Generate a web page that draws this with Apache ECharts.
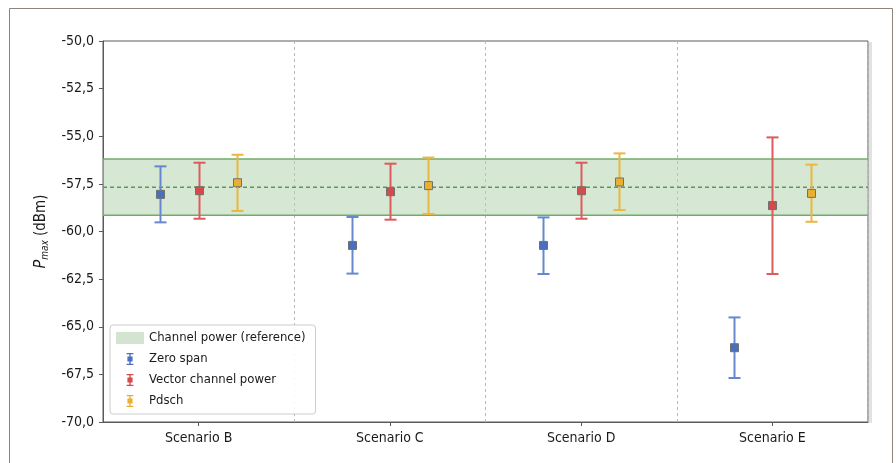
<!DOCTYPE html>
<html>
<head>
<meta charset="utf-8">
<script src="https://cdn.jsdelivr.net/npm/echarts@6/dist/echarts.min.js"></script>
<style>
html,body{margin:0;padding:0;background:#fff;}
#c{width:896px;height:463px;}
</style>
</head>
<body>
<div id="c"></div>
<script>
// ---- data ----
const categories = ['Scenario B', 'Scenario C', 'Scenario D', 'Scenario E'];
const yTicks = [-70, -67.5, -65, -62.5, -60, -57.5, -55, -52.5, -50];

const refCenter = -57.68;
const refLow = -59.15;
const refHigh = -56.19;

const zeroSpanMean = [-58.05, -60.73, -60.73, -66.10];
const zeroSpanLow  = [-59.52, -62.21, -62.23, -67.69];
const zeroSpanHigh = [-56.58, -59.24, -59.26, -64.51];

const vectorMean = [-57.86, -57.91, -57.86, -58.64];
const vectorLow  = [-59.33, -59.38, -59.33, -62.23];
const vectorHigh = [-56.39, -56.44, -56.39, -55.06];

const pdschMean = [-57.44, -57.59, -57.40, -58.00];
const pdschLow  = [-58.92, -59.08, -58.87, -59.49];
const pdschHigh = [-55.97, -56.12, -55.90, -56.49];

const seriesNames = ['Channel power (reference)', 'Zero span', 'Vector channel power', 'Pdsch'];

// ---- styling ----
const FONT = "'Liberation Sans Narrow', 'DejaVu Sans Condensed', 'Roboto Condensed', sans-serif";
const colBlue = '#4a6fbf', colBlueLine = '#6788cf';
const colRed = '#d64a4a', colRedLine = '#dc5b5b';
const colYel = '#e8b030', colYelLine = '#ebb73f';

function mk(mean, low, high) {
  return mean.map((m, i) => [i, m, low[i], high[i]]);
}

function errRender(offFrac, lineColor, fillColor) {
  return function (params, api) {
    const xi = api.value(0);
    const bw = api.size([1, 0])[0];
    const pm = api.coord([xi, api.value(1)]);
    const x = Math.round(pm[0] + offFrac * bw) + 0.5;
    const yl = api.coord([xi, api.value(2)])[1];
    const yh = api.coord([xi, api.value(3)])[1];
    const cap = 6;
    const ls = { stroke: lineColor, lineWidth: 2 };
    return {
      type: 'group',
      children: [
        { type: 'line', shape: { x1: x, y1: yl, x2: x, y2: yh }, style: ls },
        { type: 'line', shape: { x1: x - cap, y1: yl, x2: x + cap, y2: yl }, style: ls },
        { type: 'line', shape: { x1: x - cap, y1: yh, x2: x + cap, y2: yh }, style: ls },
        { type: 'rect', shape: { x: x - 4, y: pm[1] - 4, width: 8, height: 8 },
          style: { fill: fillColor, stroke: '#707070', lineWidth: 1 } }
      ]
    };
  };
}

const errIcon = 'path://M2,0H10V1.6H2Z M2,12.4H10V14H2Z M5.2,0H6.8V14H5.2Z M3,4H9V10H3Z';

const chart = echarts.init(document.getElementById('c'), null, { renderer: 'canvas' });

const option = {
  animation: false,
  backgroundColor: '#ffffff',
  textStyle: { fontFamily: FONT },
  graphic: [
    { type: 'rect', z: 0, silent: true,
      shape: { x: 9.5, y: 8.5, width: 883, height: 480 },
      style: { fill: 'none', stroke: '#8f8478', lineWidth: 1 } },
    { type: 'rect', z: 0, silent: true,
      shape: { x: 869, y: 42, width: 3, height: 381 },
      style: { fill: '#e2e2e2' } }
  ],
  grid: {
    left: 103, right: 28, top: 41, bottom: 41,
    show: true, borderColor: '#5a5a5a', borderWidth: 1, backgroundColor: 'transparent'
  },
  legend: {
    orient: 'vertical',
    left: 110, top: 325,
    backgroundColor: 'rgba(255,255,255,0.9)',
    borderColor: '#cccccc', borderWidth: 1, borderRadius: 3,
    padding: [6, 10, 6, 6],
    itemWidth: 28, itemHeight: 12, itemGap: 7,
    textStyle: { fontFamily: FONT, fontSize: 13, color: '#1a1a1a', lineHeight: 14 },
    data: [
      { name: seriesNames[0], icon: 'rect' },
      { name: seriesNames[1], icon: errIcon },
      { name: seriesNames[2], icon: errIcon },
      { name: seriesNames[3], icon: errIcon }
    ]
  },
  xAxis: {
    type: 'category',
    data: categories,
    boundaryGap: true,
    axisLine: { show: true, lineStyle: { color: '#5a5a5a', width: 1 } },
    axisTick: { show: true, alignWithLabel: true, length: 4, lineStyle: { color: '#5a5a5a' } },
    axisLabel: { fontFamily: FONT, fontSize: 14, color: '#1a1a1a', margin: 9 },
    splitLine: { show: true, lineStyle: { color: '#b8b8b8', type: [3, 3], width: 1 } }
  },
  yAxis: {
    type: 'value',
    min: -70, max: -50, interval: 2.5,
    axisLine: { show: true, lineStyle: { color: '#5a5a5a', width: 1 } },
    axisTick: { show: true, length: 4, lineStyle: { color: '#5a5a5a' } },
    axisLabel: {
      fontFamily: FONT, fontSize: 14, color: '#1a1a1a', margin: 9,
      formatter: v => v.toFixed(1).replace('.', ',')
    },
    splitLine: { show: false },
    name: '{p|P}{s|max} (dBm)',
    nameLocation: 'middle',
    nameGap: 47,
    nameRotate: 90,
    nameTextStyle: {
      fontFamily: FONT, fontSize: 15, color: '#1a1a1a',
      rich: {
        p: { fontFamily: FONT, fontSize: 16, fontStyle: 'italic', color: '#1a1a1a' },
        s: { fontFamily: FONT, fontSize: 10, fontStyle: 'italic', color: '#1a1a1a', verticalAlign: 'bottom', lineHeight: 19 }
      }
    }
  },
  series: [
    {
      name: seriesNames[0],
      type: 'custom',
      z: 1,
      itemStyle: { color: '#d3e4d0' },
      data: [[0, refCenter, refLow, refHigh]],
      renderItem: function (params, api) {
        const cs = params.coordSys;
        const yc = api.coord([0, api.value(1)])[1];
        const yl = api.coord([0, api.value(2)])[1];
        const yh = api.coord([0, api.value(3)])[1];
        return {
          type: 'group',
          children: [
            { type: 'rect', shape: { x: cs.x, y: yh, width: cs.width, height: yl - yh },
              style: { fill: 'rgba(180,212,176,0.55)' } },
            { type: 'line', shape: { x1: cs.x, y1: yh, x2: cs.x + cs.width, y2: yh },
              style: { stroke: '#6fae6a', lineWidth: 1.5 } },
            { type: 'line', shape: { x1: cs.x, y1: yl, x2: cs.x + cs.width, y2: yl },
              style: { stroke: '#6fae6a', lineWidth: 1.5 } },
            { type: 'line', shape: { x1: cs.x, y1: yc, x2: cs.x + cs.width, y2: yc },
              style: { stroke: '#5a9a57', lineWidth: 1.4, lineDash: [4, 3] } }
          ]
        };
      }
    },
    {
      name: seriesNames[1], type: 'custom', z: 3,
      itemStyle: { color: colBlue },
      data: mk(zeroSpanMean, zeroSpanLow, zeroSpanHigh),
      renderItem: errRender(-0.2, colBlueLine, colBlue)
    },
    {
      name: seriesNames[2], type: 'custom', z: 3,
      itemStyle: { color: colRed },
      data: mk(vectorMean, vectorLow, vectorHigh),
      renderItem: errRender(0, colRedLine, colRed)
    },
    {
      name: seriesNames[3], type: 'custom', z: 3,
      itemStyle: { color: colYel },
      data: mk(pdschMean, pdschLow, pdschHigh),
      renderItem: errRender(0.2, colYelLine, colYel)
    }
  ]
};
chart.setOption(option);
</script>
</body>
</html>
